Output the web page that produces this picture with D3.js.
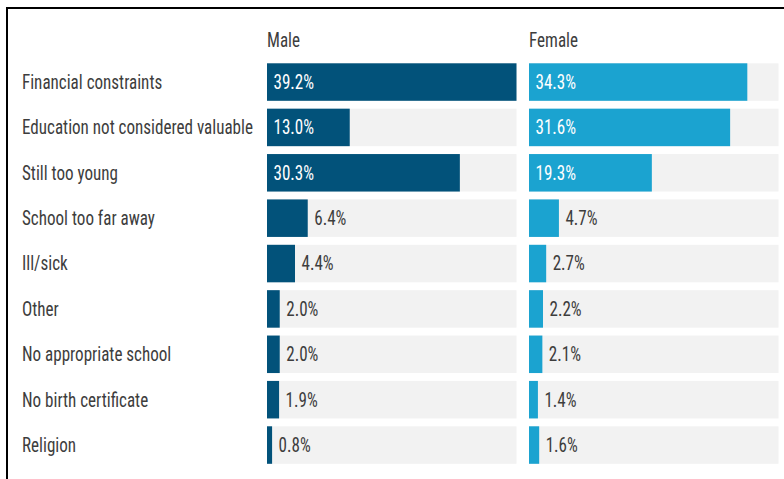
<!DOCTYPE html>
<html>
<head>
<meta charset="utf-8">
<script src="https://cdn.jsdelivr.net/npm/d3@7"></script>
<style>
  html, body { margin: 0; padding: 0; background: #fff; }
  svg { display: block; }
  text { font-family: "Roboto Condensed", Roboto, sans-serif; font-weight: 400; }
</style>
</head>
<body>
<svg id="chart" width="784" height="479"></svg>
<script>
const reasons = [
  "Financial constraints",
  "Education not considered valuable",
  "Still too young",
  "School too far away",
  "Ill/sick",
  "Other",
  "No appropriate school",
  "No birth certificate",
  "Religion"
];
const maleValues   = [39.2, 13.0, 30.3, 6.4, 4.4, 2.0, 2.0, 1.9, 0.8];
const femaleValues = [34.3, 31.6, 19.3, 4.7, 2.7, 2.2, 2.1, 1.4, 1.6];
const groups = ["Male", "Female"];

const svg = d3.select("#chart");

// Frame lines along the top and left edges
svg.append("line").attr("x1", 6).attr("x2", 784).attr("y1", 8).attr("y2", 8)
  .attr("stroke", "#000").attr("stroke-width", 2);
svg.append("line").attr("x1", 7).attr("x2", 7).attr("y1", 7).attr("y2", 479)
  .attr("stroke", "#000").attr("stroke-width", 2);

const panelWidth = 249.5;
const panelX = d3.scaleOrdinal().domain(groups).range([267, 529]);
const y = d3.scaleBand().domain(reasons).range([63.3, 463.8]).paddingInner(0.1736).paddingOuter(0);
const allMax = d3.max(maleValues.concat(femaleValues));
const x = d3.scaleLinear().domain([0, allMax]).range([0, panelWidth]);

const colors = { Male: "#02527a", Female: "#1ba3d0" };
const fmt = d => d.toFixed(1) + "%";
const fontSize = 19.5;
const textColor = "#3d3d3d";
const narrow = 0.875; // condensed face: squeeze glyphs horizontally

function condense(sel) {
  sel.each(function () {
    const w = this.getComputedTextLength();
    d3.select(this).attr("textLength", w * narrow).attr("lengthAdjust", "spacingAndGlyphs");
  });
}

// Row labels
svg.append("g").selectAll("text").data(reasons).join("text")
  .attr("x", 22)
  .attr("y", d => y(d) + y.bandwidth() / 2)
  .attr("dy", "0.35em")
  .attr("font-size", fontSize)
  .attr("fill", textColor)
  .text(d => d)
  .call(condense);

const series = [
  { group: "Male", values: maleValues },
  { group: "Female", values: femaleValues }
];

series.forEach(s => {
  const x0 = panelX(s.group);
  const g = svg.append("g").attr("transform", `translate(${x0},0)`);
  g.append("text").attr("x", 0).attr("y", 46.5)
    .attr("font-size", fontSize).attr("fill", textColor).text(s.group)
    .call(condense);

  const rows = reasons.map((r, i) => ({ reason: r, value: s.values[i] }));

  g.selectAll("rect.track").data(rows).join("rect")
    .attr("class", "track")
    .attr("x", 0).attr("y", d => y(d.reason))
    .attr("width", x(allMax)).attr("height", y.bandwidth())
    .attr("fill", "#f2f2f2");

  g.selectAll("rect.bar").data(rows).join("rect")
    .attr("class", "bar")
    .attr("x", 0).attr("y", d => y(d.reason))
    .attr("width", d => x(d.value)).attr("height", y.bandwidth())
    .attr("fill", colors[s.group]);

  g.selectAll("text.val").data(rows).join("text")
    .attr("class", "val")
    .attr("x", d => d.value >= 10 ? 6.5 : x(d.value) + 6.5)
    .attr("y", d => y(d.reason) + y.bandwidth() / 2)
    .attr("dy", "0.35em")
    .attr("font-size", fontSize)
    .attr("fill", d => d.value >= 10 ? "#fff" : textColor)
    .text(d => fmt(d.value))
    .call(condense);
});
</script>
</body>
</html>
